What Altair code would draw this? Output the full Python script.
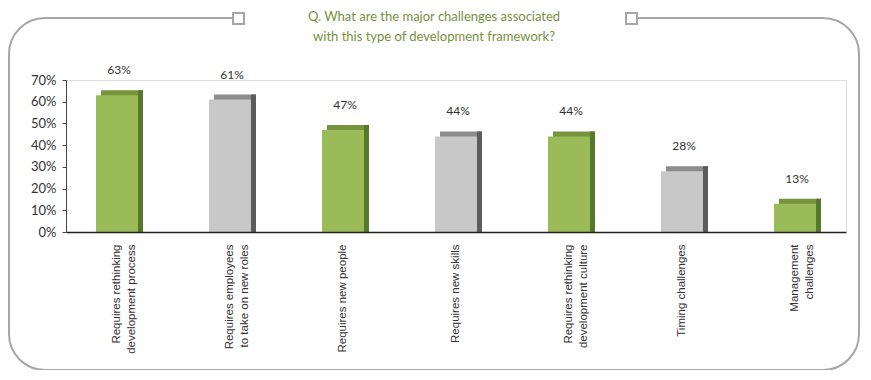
import altair as alt
import pandas as pd

# ---- data ----
categories = [
    "Requires rethinking|development process",
    "Requires employees|to take on new roles",
    "Requires new people",
    "Requires new skills",
    "Requires rethinking|development culture",
    "Timing challenges",
    "Management|challenges",
]
values = [63, 61, 47, 44, 44, 28, 13]
groups = ["green", "gray", "green", "gray", "green", "gray", "green"]
y_ticks = [0, 10, 20, 30, 40, 50, 60, 70]
title_lines = [
    "Q. What are the major challenges associated",
    "with this type of development framework?",
]

df = pd.DataFrame({"cat": categories, "v": values, "grp": groups})

# ---- styles ----
front_colors = ["#9BBB59", "#C8C8C8"]
top_colors = ["#77933C", "#8C8C8C"]
side_colors = ["#56782B", "#5C5C5C"]
grp_domain = ["green", "gray"]
frame_color = "#A6A6A6"
title_color = "#76923C"

W, H = 780, 152

x_enc = alt.X(
    "cat:N",
    sort=None,
    scale=alt.Scale(paddingInner=0.6283, paddingOuter=0.2655),
    axis=alt.Axis(
        title=None,
        labelAngle=-90,
        labelExpr="split(datum.label, '|')",
        labelFont="Liberation Sans",
        labelFontSize=11.5,
        labelColor="#333333",
        labelPadding=12,
        labelLineHeight=15,
        labelLimit=0,
        ticks=False,
        domainColor="#222222",
        domainWidth=1.5,
        zindex=1,
    ),
)
y_enc = alt.Y(
    "v:Q",
    stack=None,
    scale=alt.Scale(domain=[0, 70]),
    axis=alt.Axis(
        title=None,
        values=y_ticks,
        labelExpr="datum.value + '%'",
        labelFont="Lato",
        labelFontSize=13,
        labelColor="#333333",
        labelPadding=6,
        tickSize=4,
        tickColor="#444444",
        domainColor="#444444",
        grid=False,
        zindex=1,
    ),
)


def col(rng):
    return alt.Color("grp:N", scale=alt.Scale(domain=grp_domain, range=rng), legend=None)


base = alt.Chart(df)

top_face = base.mark_bar(size=42, xOffset=5, yOffset=-5).encode(
    x=x_enc, y=y_enc, color=col(top_colors)
)
side_face = base.mark_bar(size=5, xOffset=23.5, yOffset=-5).encode(
    x=x_enc, y=y_enc, color=col(side_colors)
)
side_low = base.mark_bar(size=5, xOffset=23.5).encode(
    x=x_enc, y=y_enc, color=col(side_colors)
)
front = base.mark_bar(size=42).encode(x=x_enc, y=y_enc, color=col(front_colors))

labels = base.transform_calculate(lab="datum.v + '%'").mark_text(
    dy=-25, dx=2, font="Lato", fontSize=12, color="#333333", baseline="middle"
).encode(x=x_enc, y=y_enc, text="lab:N")

one = alt.Data(values=[{"k": 1}])

frame = alt.Chart(one).mark_rect(
    fillOpacity=0, stroke=frame_color, strokeWidth=2, cornerRadius=36
).encode(x=alt.value(-57), x2=alt.value(793), y=alt.value(-62), y2=alt.value(290))

gap = alt.Chart(one).mark_rect(fill="white").encode(
    x=alt.value(178), x2=alt.value(559), y=alt.value(-66), y2=alt.value(-58)
)

sq_left = alt.Chart(one).mark_rect(fill="white", stroke=frame_color, strokeWidth=2).encode(
    x=alt.value(167), x2=alt.value(178), y=alt.value(-67), y2=alt.value(-56)
)
sq_right = alt.Chart(one).mark_rect(fill="white", stroke=frame_color, strokeWidth=2).encode(
    x=alt.value(560), x2=alt.value(571), y=alt.value(-67), y2=alt.value(-56)
)

t1 = alt.Chart(one).mark_text(
    font="Lato", fontSize=13, color=title_color, baseline="middle", align="center"
).encode(x=alt.value(368), y=alt.value(-63), text=alt.value(title_lines[0]))
t2 = alt.Chart(one).mark_text(
    font="Lato", fontSize=13, color=title_color, baseline="middle", align="center"
).encode(x=alt.value(368), y=alt.value(-43), text=alt.value(title_lines[1]))

chart = (
    alt.layer(frame, gap, sq_left, sq_right, t1, t2,
              top_face, side_face, side_low, front, labels)
    .resolve_scale(color="independent")
    .properties(
        width=W,
        height=H,
        autosize=alt.AutoSizeParams(type="none"),
        padding={"left": 58, "top": 72, "right": 17, "bottom": 138},
    )
    .configure_view(stroke=None)
    .configure(background="white")
)

chart.save("out.html", embed_options={"renderer": "svg", "actions": False})
